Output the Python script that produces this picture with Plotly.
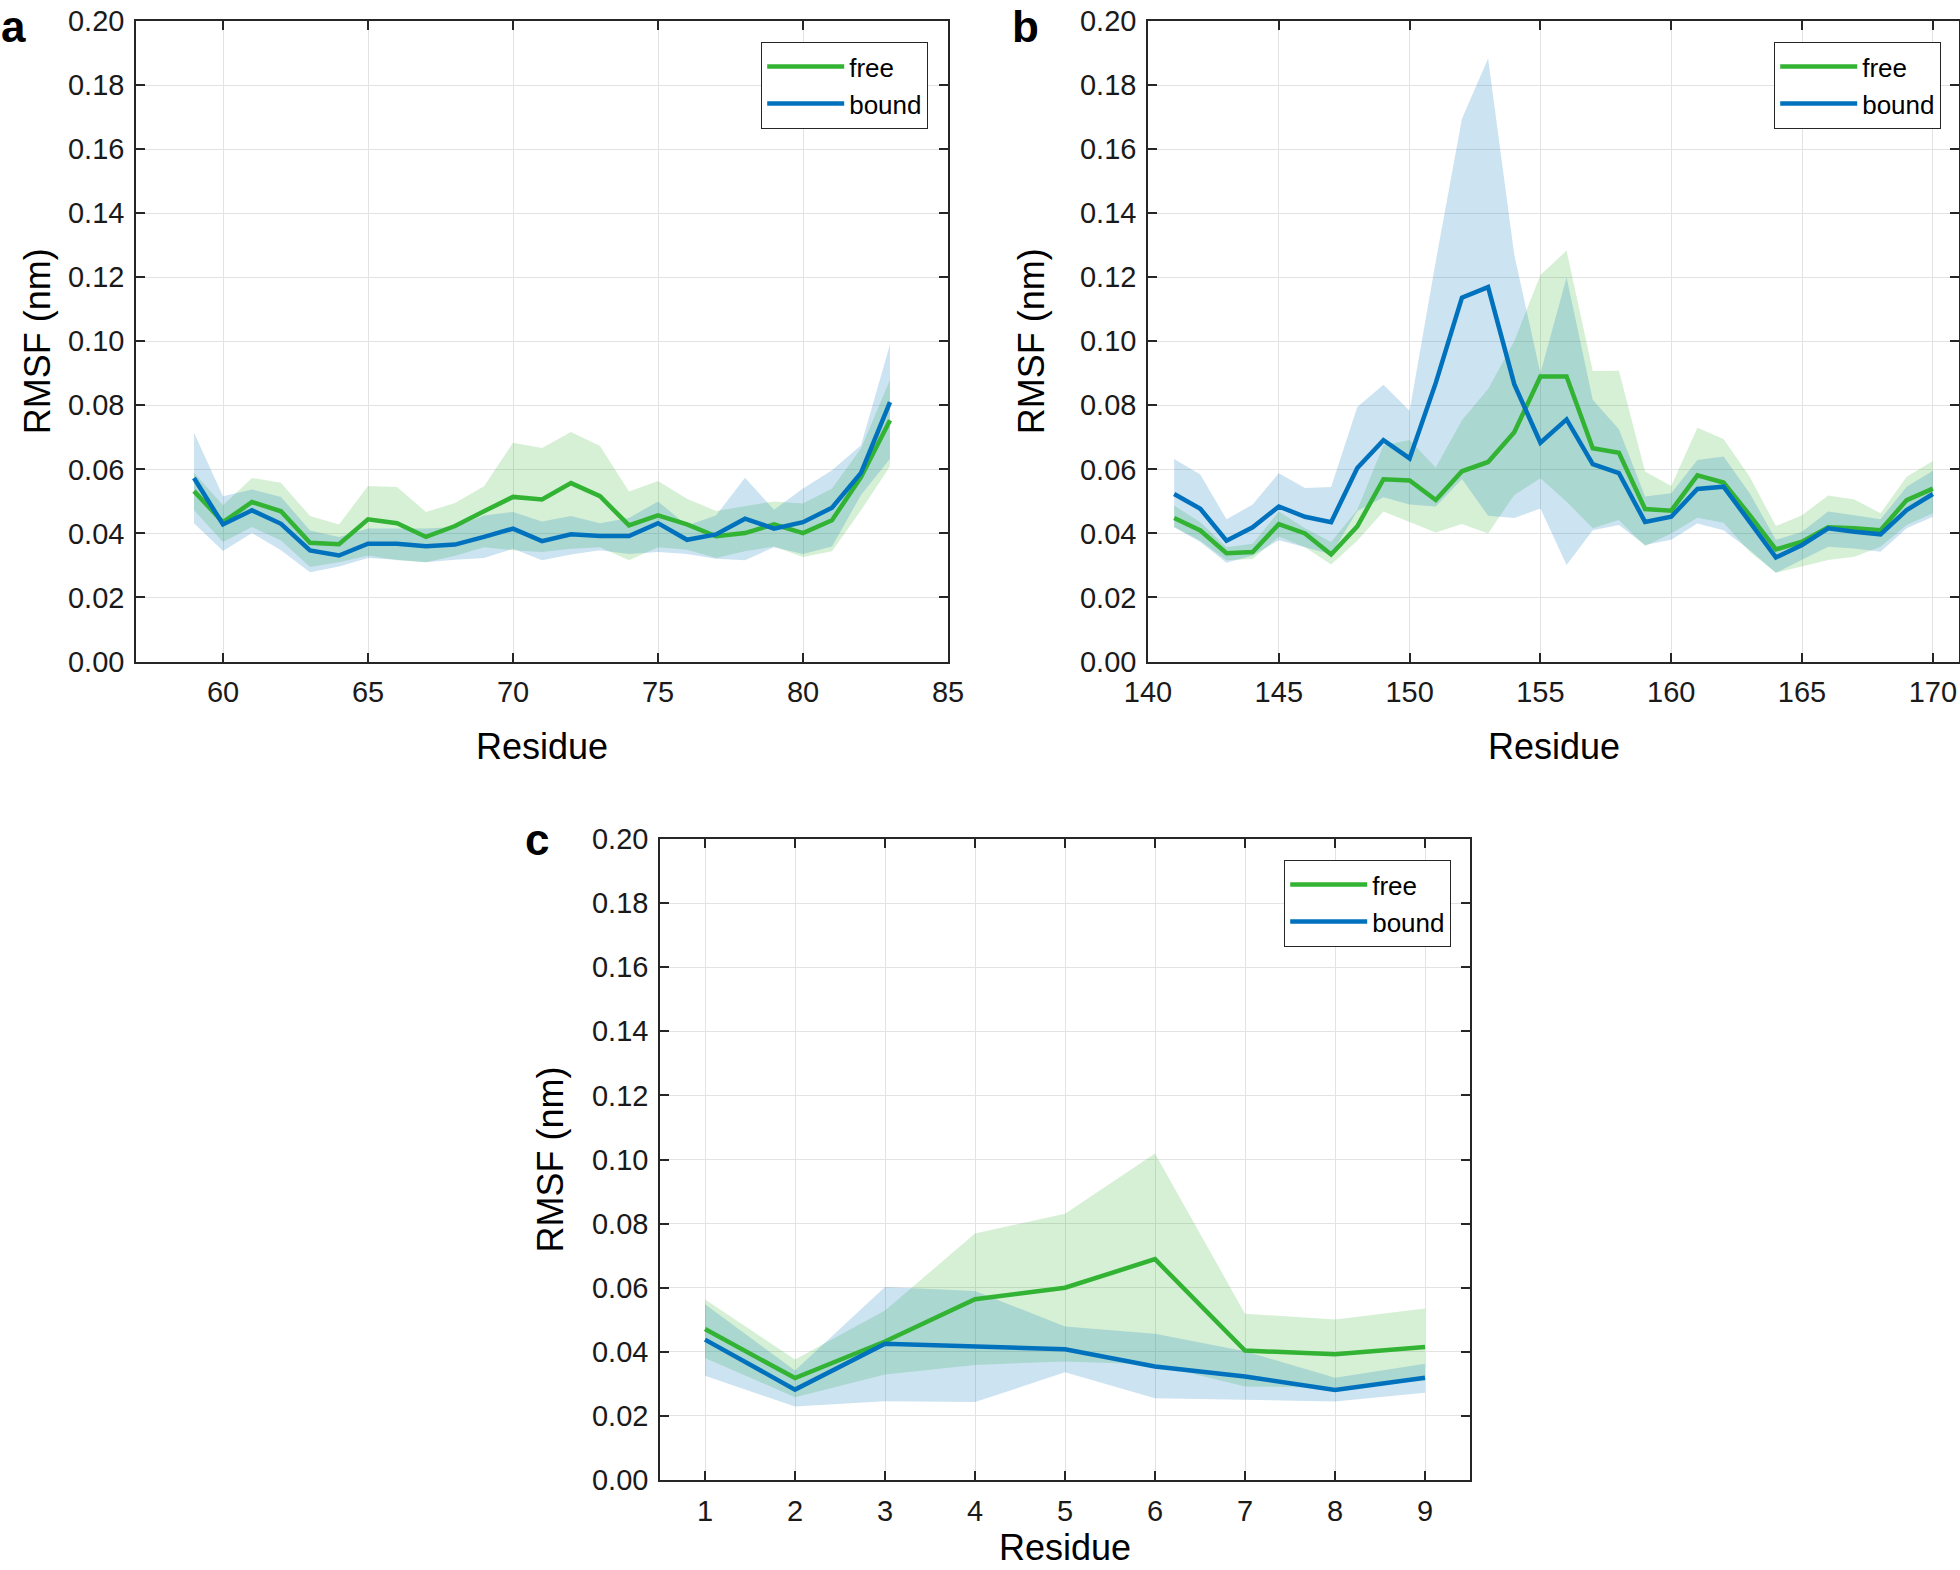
import plotly.graph_objects as go

# ---------------- data ----------------
a_res = list(range(59, 84))
a_free = [0.0532,0.0435,0.0498,0.0469,0.0371,0.0366,0.0444,0.0432,0.0389,0.0423,0.0469,0.0514,0.0506,0.0557,0.0516,0.0425,0.0456,0.0428,0.0391,0.0401,0.0428,0.0401,0.0441,0.0576,0.0753]
a_bound = [0.0573,0.0428,0.0472,0.0430,0.0347,0.0331,0.0368,0.0368,0.0360,0.0365,0.0389,0.0415,0.0376,0.0397,0.0392,0.0392,0.0432,0.0380,0.0397,0.0446,0.0415,0.0435,0.0480,0.0589,0.0810]
a_free_hi = [0.0589,0.0488,0.0573,0.0558,0.0454,0.0428,0.0548,0.0545,0.0467,0.0495,0.0547,0.0683,0.0667,0.0717,0.0673,0.0531,0.0564,0.0508,0.0470,0.0484,0.0500,0.0493,0.0540,0.0665,0.0880]
a_free_lo = [0.0472,0.0373,0.0420,0.0378,0.0295,0.0310,0.0331,0.0316,0.0310,0.0330,0.0357,0.0347,0.0342,0.0352,0.0357,0.0316,0.0357,0.0349,0.0323,0.0344,0.0359,0.0326,0.0344,0.0472,0.0610]
a_bound_hi = [0.0714,0.0516,0.0537,0.0514,0.0409,0.0389,0.0415,0.0415,0.0415,0.0420,0.0456,0.0467,0.0437,0.0454,0.0432,0.0448,0.0500,0.0425,0.0456,0.0574,0.0474,0.0540,0.0597,0.0675,0.0990]
a_bound_lo = [0.0432,0.0345,0.0401,0.0347,0.0279,0.0297,0.0323,0.0318,0.0310,0.0318,0.0323,0.0352,0.0316,0.0334,0.0347,0.0336,0.0342,0.0336,0.0321,0.0316,0.0357,0.0336,0.0359,0.0520,0.0633]

b_res = list(range(141, 171))
b_free = [0.0448,0.0409,0.0338,0.0342,0.0429,0.0400,0.0334,0.0422,0.0569,0.0565,0.0504,0.0594,0.0623,0.0716,0.0890,0.0890,0.0666,0.0652,0.0476,0.0471,0.0581,0.0559,0.0457,0.0350,0.0374,0.0419,0.0416,0.0410,0.0504,0.0540]
b_bound = [0.0523,0.0477,0.0377,0.0419,0.0484,0.0452,0.0435,0.0604,0.0691,0.0634,0.0870,0.1136,0.1169,0.0866,0.0683,0.0756,0.0616,0.0588,0.0436,0.0452,0.0539,0.0546,0.0436,0.0325,0.0364,0.0416,0.0405,0.0397,0.0473,0.0523]
b_free_hi = [0.0487,0.0435,0.0357,0.0368,0.0468,0.0416,0.0373,0.0474,0.0675,0.0692,0.0606,0.0753,0.0851,0.1000,0.1207,0.1283,0.0907,0.0908,0.0593,0.0548,0.0730,0.0695,0.0577,0.0423,0.0457,0.0518,0.0506,0.0463,0.0577,0.0626]
b_free_lo = [0.0420,0.0377,0.0316,0.0320,0.0390,0.0357,0.0303,0.0377,0.0468,0.0435,0.0403,0.0429,0.0400,0.0520,0.0572,0.0499,0.0416,0.0442,0.0361,0.0400,0.0449,0.0433,0.0343,0.0277,0.0296,0.0317,0.0327,0.0358,0.0426,0.0463]
b_bound_hi = [0.0632,0.0584,0.0444,0.0490,0.0588,0.0542,0.0545,0.0795,0.0864,0.0783,0.1250,0.1695,0.1883,0.1270,0.0900,0.1200,0.0817,0.0725,0.0515,0.0525,0.0629,0.0640,0.0525,0.0380,0.0405,0.0468,0.0457,0.0444,0.0546,0.0596]
b_bound_lo = [0.0419,0.0373,0.0308,0.0331,0.0379,0.0357,0.0335,0.0470,0.0513,0.0490,0.0484,0.0570,0.0455,0.0448,0.0478,0.0301,0.0410,0.0426,0.0364,0.0380,0.0431,0.0410,0.0348,0.0277,0.0317,0.0358,0.0353,0.0343,0.0416,0.0452]

c_res = list(range(1, 10))
c_free = [0.0471,0.0318,0.0432,0.0564,0.0600,0.0689,0.0404,0.0392,0.0415]
c_bound = [0.0438,0.0282,0.0425,0.0417,0.0408,0.0354,0.0323,0.0281,0.0319]
c_free_hi = [0.0563,0.0376,0.0529,0.0769,0.0831,0.1019,0.0519,0.0501,0.0535]
c_free_lo = [0.0381,0.0258,0.0329,0.0359,0.0370,0.0360,0.0292,0.0288,0.0310]
c_bound_hi = [0.0548,0.0342,0.0602,0.0590,0.0479,0.0456,0.0402,0.0319,0.0363]
c_bound_lo = [0.0325,0.0229,0.0246,0.0243,0.0336,0.0255,0.0251,0.0245,0.0272]

y_ticks = [0.00, 0.02, 0.04, 0.06, 0.08, 0.10, 0.12, 0.14, 0.16, 0.18, 0.20]
series_names = ["free", "bound"]
panel_labels = ["a", "b", "c"]
x_title = "Residue"
y_title = "RMSF (nm)"

# ---------------- style ----------------
W, H = 1960, 1570
FONT = "Liberation Sans, Arial, Helvetica, sans-serif"
GREEN = "#33b333"
BLUE = "#0072bd"
GREEN_FILL = "rgba(51,179,51,0.2)"
BLUE_FILL = "rgba(0,114,189,0.2)"
AX = "#262626"
GRID = "#e3e3e3"

def px_x(p):
    return p / W

def px_y(p):
    return 1 - p / H

panels = [
    dict(res=a_res, free=a_free, bound=a_bound, fh=a_free_hi, fl=a_free_lo, bh=a_bound_hi, bl=a_bound_lo,
         box=(136, 948, 21, 661.5), xr=[57, 85], dtick=5,
         leg=(928, 42), letter=(13, 24), ytitle_x=37, xtitle_y=746),
    dict(res=b_res, free=b_free, bound=b_bound, fh=b_free_hi, fl=b_free_lo, bh=b_bound_hi, bl=b_bound_lo,
         box=(1148, 1959, 21, 661.5), xr=[140, 171], dtick=5,
         leg=(1941, 42), letter=(1025, 22), ytitle_x=1031, xtitle_y=746),
    dict(res=c_res, free=c_free, bound=c_bound, fh=c_free_hi, fl=c_free_lo, bh=c_bound_hi, bl=c_bound_lo,
         box=(660, 1470, 839, 1480), xr=[0.5, 9.5], dtick=1,
         leg=(1451, 860), letter=(537, 839), ytitle_x=550, xtitle_y=None),
]
TICK_F, TITLE_F, LEG_F, LETTER_F = 29, 36, 26, 44

fig = go.Figure()
layout = dict(width=W, height=H, margin=dict(l=0, r=0, t=0, b=0, autoexpand=False),
              paper_bgcolor="white", plot_bgcolor="white",
              font=dict(family=FONT, color="#1a1a1a"), showlegend=True)
annotations = []

for i, p in enumerate(panels):
    n = "" if i == 0 else str(i + 1)
    xa, ya = "x" + n, "y" + n
    legname = "legend" + n
    xs = p["res"]
    # bands
    fig.add_trace(go.Scatter(x=xs + xs[::-1], y=p["fh"] + p["fl"][::-1], xaxis=xa, yaxis=ya,
                             fill="toself", fillcolor=GREEN_FILL, line=dict(width=0),
                             mode="lines", hoverinfo="skip", showlegend=False, legend=legname))
    fig.add_trace(go.Scatter(x=xs + xs[::-1], y=p["bh"] + p["bl"][::-1], xaxis=xa, yaxis=ya,
                             fill="toself", fillcolor=BLUE_FILL, line=dict(width=0),
                             mode="lines", hoverinfo="skip", showlegend=False, legend=legname))
    # lines
    fig.add_trace(go.Scatter(x=xs, y=p["free"], xaxis=xa, yaxis=ya, mode="lines",
                             line=dict(color=GREEN, width=4.5), name=series_names[0], legend=legname))
    fig.add_trace(go.Scatter(x=xs, y=p["bound"], xaxis=xa, yaxis=ya, mode="lines",
                             line=dict(color=BLUE, width=4.5), name=series_names[1], legend=legname))

    x0, x1, y0, y1 = p["box"]
    common = dict(showline=True, linecolor=AX, linewidth=1.5, mirror="ticks",
                  ticks="inside", ticklen=9, tickwidth=1.5, tickcolor=AX,
                  showgrid=True, gridcolor=GRID, gridwidth=1, zeroline=False,
                  automargin=False,
                  tickfont=dict(family=FONT, size=TICK_F, color="#1a1a1a"))
    layout["xaxis" + n] = dict(domain=[px_x(x0), px_x(x1)], range=p["xr"], dtick=p["dtick"],
                               tick0=0, anchor=ya, ticklabelstandoff=4, **common)
    layout["yaxis" + n] = dict(domain=[px_y(y1), px_y(y0)], range=[0, 0.2], tickvals=y_ticks,
                               tickformat=".2f", anchor=xa, ticklabelstandoff=4, **common)
    lx, ly = p["leg"]
    layout[legname] = dict(x=px_x(lx), y=px_y(ly), xanchor="right", yanchor="top",
                           xref="paper", yref="paper",
                           bgcolor="white", bordercolor=AX, borderwidth=1.2,
                           font=dict(family=FONT, size=LEG_F, color="#000"),
                           tracegroupgap=0, itemwidth=77)
    # titles
    if p["xtitle_y"] is None:
        annotations.append(dict(text=x_title, x=px_x((x0 + x1) / 2), y=0,
                                xref="paper", yref="paper", xanchor="center", yanchor="bottom",
                                showarrow=False, font=dict(family=FONT, size=TITLE_F, color="#000")))
    else:
        annotations.append(dict(text=x_title, x=px_x((x0 + x1) / 2), y=px_y(p["xtitle_y"]),
                                xref="paper", yref="paper", xanchor="center", yanchor="middle",
                                showarrow=False, font=dict(family=FONT, size=TITLE_F, color="#000")))
    annotations.append(dict(text=y_title, x=px_x(p["ytitle_x"]), y=px_y((y0 + y1) / 2),
                            xref="paper", yref="paper", xanchor="center", yanchor="middle",
                            textangle=-90, showarrow=False,
                            font=dict(family=FONT, size=TITLE_F, color="#000")))
    lx_, ly_ = p["letter"]
    if ly_ < 30:
        annotations.append(dict(text="<b>" + panel_labels[i] + "</b>", x=px_x(lx_), y=1,
                                xref="paper", yref="paper", xanchor="center", yanchor="top",
                                showarrow=False, font=dict(family=FONT, size=LETTER_F, color="#000")))
    else:
        annotations.append(dict(text="<b>" + panel_labels[i] + "</b>", x=px_x(lx_), y=px_y(ly_),
                                xref="paper", yref="paper", xanchor="center", yanchor="middle",
                                showarrow=False, font=dict(family=FONT, size=LETTER_F, color="#000")))

layout["annotations"] = annotations
fig.update_layout(**layout)
fig.write_html("out.html", config={"displayModeBar": False},
               post_script="document.body.style.margin='0';document.body.style.overflow='hidden';")
